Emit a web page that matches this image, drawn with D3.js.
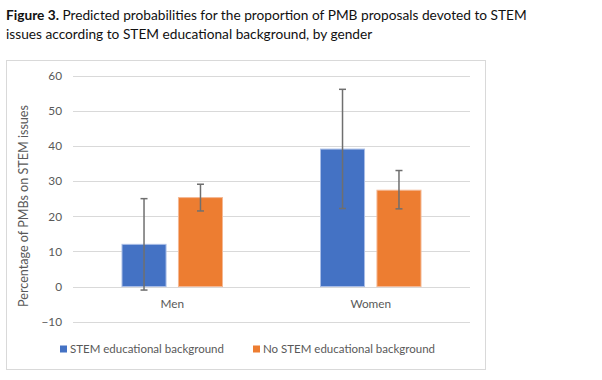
<!DOCTYPE html>
<html>
<head>
<meta charset="utf-8">
<script src="https://cdn.jsdelivr.net/npm/d3@7"></script>
<style>
  body { margin: 0; background: #fff; }
  text { font-family: Lato, "Open Sans", sans-serif; }
</style>
</head>
<body>
<svg width="602" height="380"></svg>
<script>
var genders = ['Men', 'Women'];
var seriesNames = ['STEM educational background', 'No STEM educational background'];
var seriesColors = ['#4472c4', '#ed7d31'];
// predicted value, lower and upper bound of the interval
var stemValues = [12.0, 39.1];
var stemLow = [-1.0, 22.2];
var stemHigh = [25.0, 56.1];
var noStemValues = [25.3, 27.4];
var noStemLow = [21.5, 22.1];
var noStemHigh = [29.1, 33.0];
var yTicks = [-10, 0, 10, 20, 30, 40, 50, 60];

var rows = [];
genders.forEach(function(g, i){
  rows.push({ gender: g, serie: 0, value: stemValues[i], lo: stemLow[i], hi: stemHigh[i] });
  rows.push({ gender: g, serie: 1, value: noStemValues[i], lo: noStemLow[i], hi: noStemHigh[i] });
});

var svg = d3.select('svg');

// title
var title = svg.append('text').attr('x', 6).attr('y', 20).attr('font-size', 13.7).attr('fill', '#111');
title.append('tspan').attr('font-weight', 'bold').text('Figure 3.');
title.append('tspan').text(' Predicted probabilities for the proportion of PMB proposals devoted to STEM');
svg.append('text').attr('x', 6).attr('y', 38.5).attr('font-size', 13.7).attr('fill', '#111')
  .text('issues according to STEM educational background, by gender');

// chart frame
svg.append('rect')
  .attr('x', 6.5).attr('y', 60.5).attr('width', 479).attr('height', 309)
  .attr('fill', '#fff').attr('stroke', '#d9d9d9');

var x = d3.scaleBand().domain(genders).range([73, 470]);
var xInner = d3.scaleBand().domain([0, 1]).range([0, 100.5]).paddingInner(0.22);
var y = d3.scaleLinear().domain([-10, 60]).range([321.7, 75.6]);

// gridlines
svg.append('g').selectAll('line').data(yTicks).enter().append('line')
  .attr('x1', 73).attr('x2', 470)
  .attr('y1', function(d){ return Math.round(y(d)) + 0.5; })
  .attr('y2', function(d){ return Math.round(y(d)) + 0.5; })
  .attr('stroke', '#d9d9d9').attr('stroke-width', 1);

// y axis labels
var yAxis = svg.append('g').attr('transform', 'translate(73,0)')
  .call(d3.axisLeft(y).tickValues(yTicks).tickSize(0).tickPadding(11));
yAxis.select('.domain').remove();
yAxis.selectAll('text').attr('font-size', 11.8).attr('fill', '#595959')
  .style('font-family', 'Lato, "Open Sans", sans-serif');

svg.append('text')
  .attr('transform', 'translate(28,' + 206 + ') rotate(-90)')
  .attr('text-anchor', 'middle').attr('font-size', 12.6).attr('fill', '#595959')
  .text('Percentage of PMBs on STEM issues');

// x labels
var xAxis = svg.append('g').attr('transform', 'translate(0,' + y(0) + ')')
  .call(d3.axisBottom(x).tickSize(0).tickPadding(13));
xAxis.select('.domain').remove();
xAxis.selectAll('text').attr('font-size', 11.8).attr('fill', '#595959')
  .style('font-family', 'Lato, "Open Sans", sans-serif');

var offset = (x.bandwidth() - 100.5) / 2;

// bars
svg.append('g').selectAll('rect').data(rows).enter().append('rect')
  .attr('x', function(d){ return x(d.gender) + offset + xInner(d.serie); })
  .attr('y', function(d){ return y(d.value); })
  .attr('width', xInner.bandwidth())
  .attr('height', function(d){ return y(0) - y(d.value); })
  .attr('fill', function(d){ return seriesColors[d.serie]; })
  .attr('stroke', function(d){ return d.serie === 0 ? '#a9bde6' : '#f4b893'; })
  .attr('stroke-width', 1);

// error bars
var errs = svg.append('g').selectAll('g').data(rows).enter().append('g')
  .each(function(d){
    var g = d3.select(this);
    var cx = x(d.gender) + offset + xInner(d.serie) + xInner.bandwidth() / 2;
    g.append('line').attr('x1', cx).attr('x2', cx)
      .attr('y1', y(d.lo)).attr('y2', y(d.hi));
    g.append('line').attr('x1', cx - 3.5).attr('x2', cx + 3.5)
      .attr('y1', y(d.lo)).attr('y2', y(d.lo));
    g.append('line').attr('x1', cx - 3.5).attr('x2', cx + 3.5)
      .attr('y1', y(d.hi)).attr('y2', y(d.hi));
  });
errs.selectAll('line').attr('stroke', '#6f6f6f').attr('stroke-width', 1.5);

// legend
var legendX = [60, 253];
var legend = svg.append('g').selectAll('g').data(seriesNames).enter().append('g')
  .attr('transform', function(d, i){ return 'translate(' + legendX[i] + ',349)'; });
legend.append('rect').attr('x', 0).attr('y', -3.5).attr('width', 7).attr('height', 7)
  .attr('fill', function(d, i){ return seriesColors[i]; });
legend.append('text').attr('x', 10).attr('y', 4).attr('font-size', 11.5).attr('fill', '#595959')
  .text(function(d){ return d; });
</script>
</body>
</html>
